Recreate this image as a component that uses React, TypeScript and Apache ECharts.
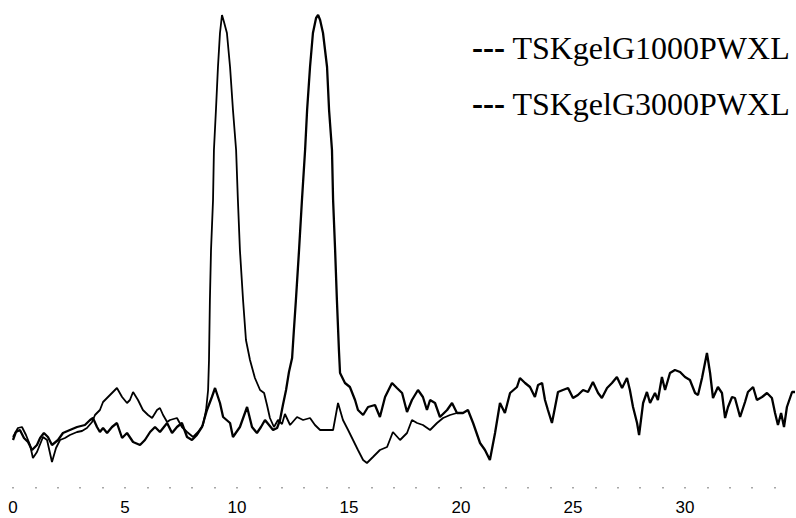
import React, { useEffect, useRef } from "react";
import * as echarts from "echarts";

// Retention time (min) and detector signal (arbitrary units)
const timeA = [0.00,0.22,0.40,0.58,0.76,0.89,1.07,1.34,1.52,1.74,1.92,2.10,2.32,2.54,2.86,3.08,3.30,3.53,3.66,3.88,4.02,4.33,4.64,4.87,5.09,5.22,5.36,5.58,5.80,6.03,6.21,6.43,6.56,6.70,6.88,7.01,7.32,7.54,7.77,8.04,8.26,8.48,8.62,8.71,8.75,8.79,8.84,8.93,8.97,9.06,9.15,9.24,9.33,9.42,9.55,9.69,9.82,9.96,10.04,10.13,10.27,10.40,10.58,10.80,11.03,11.21,11.34,11.47,11.65,11.83,12.01,12.14,12.37,12.68,12.95,13.26,13.48,13.71,14.02,14.29,14.51,14.73,14.96,15.18,15.40,15.63,15.80,16.07,16.38,16.70,16.96,17.28,17.59,17.81,18.04,18.30,18.62,18.93,19.20,19.51,19.82];
const signalA = [33,42,43,35,25,12,18,33,30,8,22,30,32,35,38,39,42,48,55,60,68,75,82,73,67,70,78,70,60,55,52,60,62,55,48,50,52,43,38,33,38,45,60,80,110,170,220,270,320,360,403,437,455,448,437,403,360,320,270,220,170,130,110,92,80,77,65,52,43,50,46,56,45,53,50,52,45,40,40,40,67,50,40,30,20,10,7,13,20,23,38,30,37,50,47,45,40,47,52,55,57];

const timeB = [0.00,0.13,0.31,0.49,0.67,0.85,1.07,1.21,1.38,1.56,1.74,2.01,2.23,2.54,2.86,3.21,3.44,3.57,3.75,3.88,4.02,4.20,4.42,4.64,4.87,5.09,5.36,5.67,5.89,6.12,6.34,6.56,6.88,7.10,7.32,7.54,7.77,7.99,8.21,8.44,8.66,8.88,9.02,9.24,9.38,9.69,9.82,10.13,10.45,10.67,10.89,11.07,11.25,11.43,11.61,11.79,11.92,12.05,12.19,12.32,12.46,12.54,12.63,12.77,12.90,13.04,13.13,13.26,13.39,13.53,13.62,13.71,13.84,14.02,14.11,14.24,14.29,14.38,14.46,14.55,14.60,14.82,15.04,15.27,15.40,15.63,15.85,16.16,16.38,16.61,16.92,17.14,17.37,17.59,17.81,18.08,18.30,18.48,18.62,18.84,19.06,19.38,19.60,19.82,20.09,20.31,20.54,20.85,21.07,21.29,21.52,21.74,21.96,22.19,22.50,22.63,22.86,23.08,23.30,23.44,23.62,23.75,23.88,24.06,24.20,24.33,24.55,24.78,25.00,25.22,25.45,25.67,25.89,26.12,26.29,26.52,26.74,26.96,27.19,27.41,27.54,27.68,27.86,27.95,28.13,28.30,28.44,28.66,28.79,28.97,29.11,29.33,29.55,29.78,30.00,30.22,30.45,30.58,30.76,30.98,31.12,31.25,31.47,31.65,31.79,31.92,32.10,32.23,32.46,32.68,32.81,33.04,33.21,33.44,33.66,33.88,34.02,34.15,34.29,34.42,34.55,34.78,34.91];
const signalB = [30,38,40,32,28,20,25,32,37,33,25,30,37,40,43,45,50,52,43,38,42,37,43,47,32,37,28,25,30,38,43,38,47,37,43,47,33,30,35,43,60,73,82,67,53,47,33,43,63,43,37,43,50,45,40,42,50,65,80,98,112,140,170,220,270,320,360,403,437,452,455,450,437,403,360,320,270,220,170,120,97,87,83,70,60,55,63,65,53,73,87,82,77,58,70,80,73,60,70,67,53,60,67,57,57,60,47,27,20,10,37,67,57,77,83,92,87,83,73,85,87,70,60,47,63,78,80,82,72,75,80,78,88,77,72,82,87,93,82,92,80,63,47,35,67,78,67,77,70,93,80,97,100,98,93,90,77,75,92,117,97,72,83,77,52,63,73,72,53,68,78,83,70,73,77,72,57,45,57,43,63,78,78];

const xTickLabels = [0, 5, 10, 15, 20, 25, 30];
const legendNames = ["TSKgelG1000PWXL", "TSKgelG3000PWXL"];

export default function App() {
  const ref = useRef<HTMLDivElement>(null);
  useEffect(() => {
    if (!ref.current) return;
    const chart = echarts.init(ref.current, null, { renderer: "svg" });
    const dataA = timeA.map((t, i) => [t, signalA[i]]);
    const dataB = timeB.map((t, i) => [t, signalB[i]]);
    chart.setOption({
      animation: false,
      backgroundColor: "#ffffff",
      grid: { left: 13, top: 15, width: 784, height: 472, outerBoundsMode: "none" },
      xAxis: {
        type: "value",
        min: 0,
        max: 35,
        interval: 1,
        axisLine: { show: false, onZero: false },
        splitLine: { show: false },
        axisTick: { show: true, length: 1.5, lineStyle: { color: "#8a8a8a", width: 1.5 } },
        axisLabel: {
          margin: 12,
          color: "#000",
          fontFamily: "Liberation Sans, Arial, sans-serif",
          fontSize: 17,
          lineHeight: 17,
          formatter: (v: number) => (xTickLabels.indexOf(v) >= 0 ? String(v) : ""),
        },
      },
      yAxis: { type: "value", min: -17, max: 455, show: false },
      series: [
        {
          name: legendNames[0],
          type: "line",
          data: dataA,
          showSymbol: false,
          lineStyle: { color: "#000", width: 1.8 },
        },
        {
          name: legendNames[1],
          type: "line",
          data: dataB,
          showSymbol: false,
          lineStyle: { color: "#000", width: 2.3 },
        },
      ],
      graphic: legendNames.map((name, i) => ({
        type: "text",
        left: 472,
        top: 31 + i * 56,
        style: {
          text: "{d|---} " + name,
          fill: "#000",
          font: "32px 'Liberation Serif', 'Times New Roman', serif",
          rich: { d: { fontWeight: "bold", fontSize: 33, fontFamily: "Liberation Serif" } },
        },
      })),
    });
    return () => chart.dispose();
  }, []);
  return (
    <div
      ref={ref}
      style={{ position: "absolute", left: 0, top: 0, width: 796, height: 518 }}
    />
  );
}
